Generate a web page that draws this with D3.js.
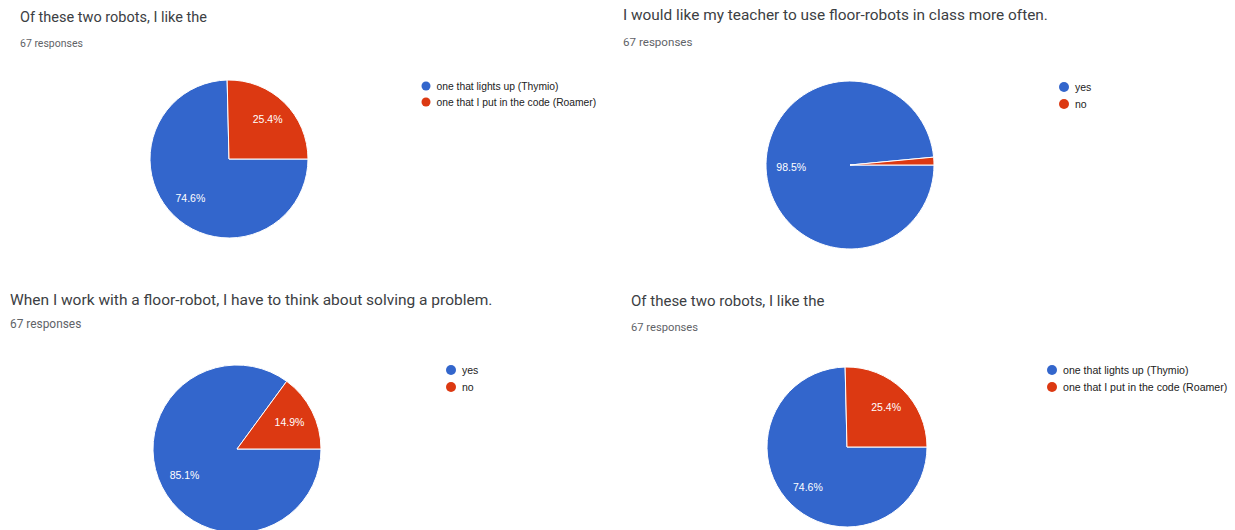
<!DOCTYPE html>
<html>
<head>
<meta charset="utf-8">
<script src="https://cdn.jsdelivr.net/npm/d3@7"></script>
<style>
  body { margin: 0; background: #fff; }
  svg { display: block; }
</style>
</head>
<body>
<div id="anchor-point"></div>
<script>
// survey answers, one entry per panel (reading order)
const titles = [
  "Of these two robots, I like the",
  "I would like my teacher to use floor-robots in class more often.",
  "When I work with a floor-robot, I have to think about solving a problem.",
  "Of these two robots, I like the"
];
const responses = [67, 67, 67, 67];
const robotLabels = ["one that lights up (Thymio)", "one that I put in the code (Roamer)"];
const yesNoLabels = ["yes", "no"];
const categories = [robotLabels, yesNoLabels, yesNoLabels, robotLabels];
const counts = [
  [50, 17],
  [66, 1],
  [57, 10],
  [50, 17]
];

// where each panel sits in the screenshot grid
const layout = [
  { tx: 20, ty: 22, ts: 14.5, rx: 20, ry: 47, rs: 10.5, cx: 229, cy: 159, r: 79, lx: 426, ly: 86, ldy: 16, lr: 4.5, lfs: 10.3 },
  { tx: 623, ty: 20, ts: 15.4, rx: 623, ry: 46, rs: 11.6, cx: 850, cy: 165, r: 84, lx: 1064, ly: 87, ldy: 17, lr: 5, lfs: 10.5 },
  { tx: 10, ty: 305, ts: 15.5, rx: 10, ry: 328, rs: 11.9, cx: 237, cy: 449, r: 84, lx: 451, ly: 370, ldy: 17, lr: 5, lfs: 10.5 },
  { tx: 631, ty: 306, ts: 15, rx: 631, ry: 331, rs: 11.2, cx: 847, cy: 447, r: 80, lx: 1052, ly: 370, ldy: 17, lr: 5, lfs: 10.6 }
];

const width = 1235, height = 530;
const color = d3.scaleOrdinal().domain([0, 1]).range(["#3366cc", "#dc3912"]);
const pct = d3.format(".1%");

const svg = d3.select("#anchor-point")
  .append("svg")
  .attr("width", width)
  .attr("height", height);

// slices start at 3 o'clock and run clockwise, like the forms summary
const pie = d3.pie()
  .sort(null)
  .startAngle(Math.PI / 2)
  .endAngle(Math.PI / 2 + 2 * Math.PI);

titles.forEach((title, p) => {
  const L = layout[p];
  const g = svg.append("g");

  g.append("text")
    .attr("x", L.tx)
    .attr("y", L.ty)
    .attr("font-family", "Roboto, 'Open Sans', sans-serif")
    .attr("font-size", L.ts)
    .attr("fill", "#3c4043")
    .text(title);

  g.append("text")
    .attr("x", L.rx)
    .attr("y", L.ry)
    .attr("font-family", "Roboto, sans-serif")
    .attr("font-size", L.rs)
    .attr("fill", "#5f6368")
    .text(`${responses[p]} responses`);

  const total = d3.sum(counts[p]);
  const arcs = pie(counts[p]);
  const arc = d3.arc().innerRadius(0).outerRadius(L.r);
  const labelArc = d3.arc().innerRadius(L.r * 0.7).outerRadius(L.r * 0.7);

  const chart = g.append("g")
    .attr("transform", `translate(${L.cx}, ${L.cy})`);

  chart.selectAll("path")
    .data(arcs)
    .enter()
    .append("path")
    .attr("d", arc)
    .attr("fill", (d, i) => color(i))
    .attr("stroke", "#fff")
    .attr("stroke-width", 1);

  // small slices get no label
  chart.selectAll(".lbl")
    .data(arcs.filter(d => d.value / total >= 0.05))
    .enter()
    .append("text")
    .attr("class", "lbl")
    .attr("transform", d => `translate(${labelArc.centroid(d)})`)
    .attr("text-anchor", "middle")
    .attr("dy", "0.35em")
    .attr("font-family", "'Liberation Sans', Arial, sans-serif")
    .attr("font-size", 10.5)
    .attr("fill", "#fff")
    .text(d => pct(d.value / total));

  //// legend ////
  const leg = g.selectAll(".leg")
    .data(categories[p])
    .enter()
    .append("g")
    .attr("transform", (d, i) => `translate(${L.lx}, ${L.ly + i * L.ldy})`);

  leg.append("circle")
    .attr("r", L.lr)
    .attr("fill", (d, i) => color(i));

  leg.append("text")
    .attr("x", L.lr + 6)
    .attr("dy", "0.35em")
    .attr("font-family", "'Liberation Sans', Arial, sans-serif")
    .attr("font-size", L.lfs)
    .attr("fill", "#222")
    .text(d => d);
});
</script>
</body>
</html>
